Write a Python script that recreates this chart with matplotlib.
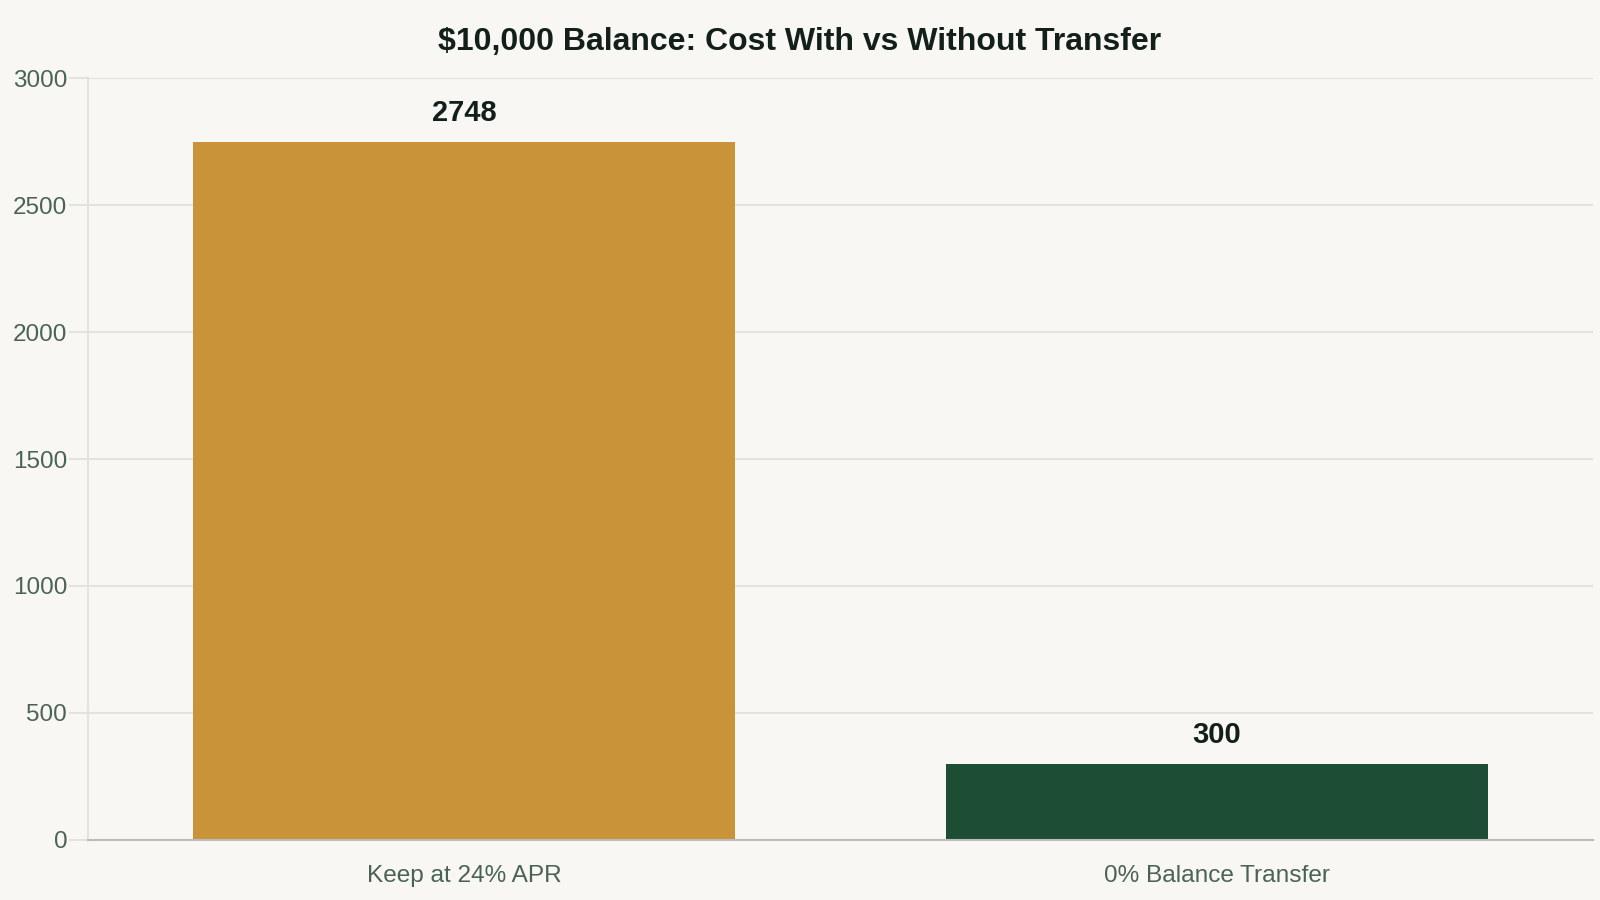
import matplotlib
matplotlib.use("Agg")
import matplotlib.pyplot as plt

# data
categories = ["Keep at 24% APR", "0% Balance Transfer"]
costs = [2748, 300]
bar_colors = ["#C9933A", "#1E4D36"]
yticks = [0, 500, 1000, 1500, 2000, 2500, 3000]

plt.rcParams['font.family'] = ['Liberation Sans', 'DejaVu Sans']

bg = "#F8F7F4"
grid_c = "#E4E2DD"
tick_c = "#4A6356"

fig = plt.figure(figsize=(16, 9), dpi=100, facecolor=bg)
ax = fig.add_axes([0.055, 0.0667, 0.9406, 0.8466])
ax.set_facecolor(bg)

x = list(range(len(categories)))
ax.bar(x, costs, width=0.72, color=bar_colors, zorder=3)

# value labels above the bars
for xi, v in zip(x, costs):
    ax.annotate(str(v), (xi, v), xytext=(0, 21), textcoords='offset points',
                ha='center', va='center', fontsize=21, fontweight='bold',
                color="#13201A")

ax.set_xlim(-0.5, 1.5)
ax.set_ylim(0, 3000)
ax.set_yticks(yticks)
ax.set_xticks(x)
ax.set_xticklabels(categories)

ax.grid(axis='y', color=grid_c, lw=1.5, zorder=0)
ax.tick_params(axis='y', length=14, width=1.5, color=grid_c, labelsize=17.5,
               labelcolor=tick_c, pad=1)
ax.tick_params(axis='x', length=0, labelsize=17.6, labelcolor=tick_c, pad=18)

for s in ['top', 'right']:
    ax.spines[s].set_visible(False)
ax.spines['left'].set_color(grid_c)
ax.spines['left'].set_linewidth(1.5)
ax.spines['bottom'].set_color("#BDBCB8")
ax.spines['bottom'].set_linewidth(1.5)
ax.spines['bottom'].set_zorder(4)

fig.text(0.5, 0.9535, "$10,000 Balance: Cost With vs Without Transfer",
         ha='center', va='center', fontsize=23, fontweight='bold',
         color="#13201A")

fig.savefig("out.png", dpi=100, facecolor=bg)
